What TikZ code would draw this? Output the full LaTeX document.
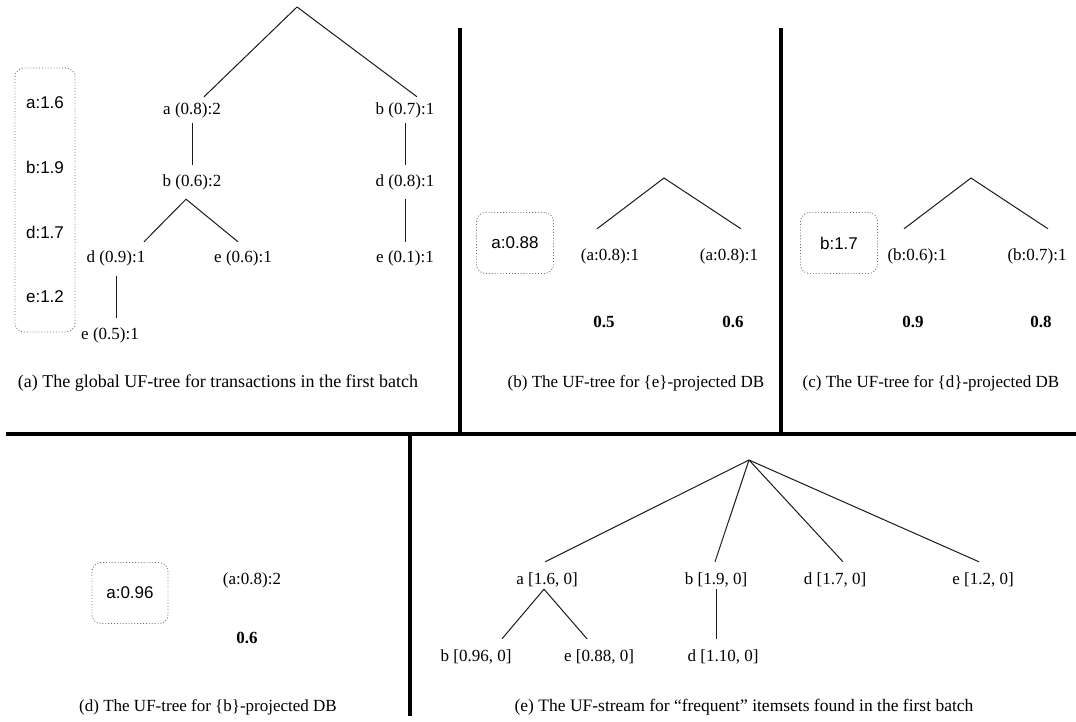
\documentclass[tikz,border=0pt]{standalone}
\usepackage{fontspec}
\setmainfont{Liberation Serif}
\setsansfont{Liberation Sans}
\usetikzlibrary{positioning}
\definecolor{inkgray}{HTML}{1A1A1A}
\definecolor{dotgray}{HTML}{707070}

\begin{document}
\begin{tikzpicture}[x=1pt, y=-1pt,
  lbl/.style={font=\fontsize{17}{20}\selectfont, inner sep=0pt, text height=12pt, text depth=4pt},
  num/.style={lbl, font=\fontsize{17}{20}\selectfont\bfseries},
  captxt/.style={font=\fontsize{17}{20}\selectfont, inner sep=0pt},
  kbox/.style={draw=dotgray, dotted, line width=0.9pt, rounded corners=9pt, inner sep=0pt, font=\sffamily\fontsize{17}{20}\selectfont},
  ktxt/.style={font=\sffamily\fontsize{17}{20}\selectfont, inner sep=0pt},
  branch/.style={draw=inkgray, line width=1pt},
  divider/.style={line width=4pt}]
  \useasboundingbox (0,0) rectangle (1076,721);

  % panel dividers
  \draw[divider] (460,28) -- (460,432);
  \draw[divider] (781,28) -- (781,432);
  \draw[divider] (6,434) -- (1076,434);
  \draw[divider] (410,434) -- (410,716);

  % (a) global UF-tree, first batch
  \node[kbox, minimum width=60pt, minimum height=264pt] (ka) at (45,200) {};
  \foreach \t/\y [count=\i] in {a:1.6/103, b:1.9/167, d:1.7/232, e:1.2/297}
    \node[ktxt] (ka\i) at (45,\y) {\t};
  \coordinate (ra) at (297,7);
  \node[lbl] (a08) at (192,110) {a (0.8):2};
  \node[lbl] (b07) at (405,110) {b (0.7):1};
  \node[lbl] (b06) at (192,182) {b (0.6):2};
  \node[lbl] (d08) at (405,182) {d (0.8):1};
  \node[lbl] (d09) at (116,258) {d (0.9):1};
  \node[lbl] (e06) at (243,258) {e (0.6):1};
  \node[lbl] (e01) at (405,258) {e (0.1):1};
  \node[lbl] (e05) at (110,335) {e (0.5):1};
  \draw[branch] (ra) -- ([xshift=12pt,yshift=5pt]a08.north);
  \draw[branch] (ra) -- ([xshift=12pt,yshift=5pt]b07.north);
  \draw[branch] ([yshift=-5pt]a08.south) -- ([yshift=9pt]b06.north);
  \draw[branch] ([yshift=-5pt]b07.south) -- ([yshift=9pt]d08.north);
  \draw[branch] ([yshift=-9pt]d08.south) -- ([yshift=8pt]e01.north);
  \draw[branch] ([xshift=28pt,yshift=8pt]d09.north) -- ([xshift=-6pt,yshift=-9pt]b06.south)
    -- ([xshift=-5pt,yshift=8pt]e06.north);
  \draw[branch] ([yshift=-10pt]d09.south) -- ([yshift=9pt]d09.south |- e05.north);
  \node[captxt, font=\fontsize{18}{21}\selectfont] (capa) at (218,383) {(a) The global UF-tree for transactions in the first batch};

  % (b) {e}-projected
  \node[kbox, minimum width=77pt, minimum height=61pt] (kb) at (515,243) {a:0.88};
  \coordinate (rb) at (664,178);
  \node[lbl] (b1) at (610,256) {(a:0.8):1};
  \node[lbl] (b2) at (729,256) {(a:0.8):1};
  \node[num] (b1v) at (604,323) {0.5};
  \node[num] (b2v) at (733,323) {0.6};
  \draw[branch] ([xshift=-13pt,yshift=19pt]b1.north) -- (rb) -- ([xshift=12pt,yshift=19pt]b2.north);
  \node[captxt] (capb) at (636,383) {(b) The UF-tree for \{e\}-projected DB};

  % (c) {d}-projected
  \node[kbox, minimum width=77pt, minimum height=61pt] (kc) at (839,243) {b:1.7};
  \coordinate (rc) at (971,178);
  \node[lbl] (c1) at (917,256) {(b:0.6):1};
  \node[lbl] (c2) at (1037,256) {(b:0.7):1};
  \node[num] (c1v) at (913,323) {0.9};
  \node[num] (c2v) at (1041,323) {0.8};
  \draw[branch] ([xshift=-13pt,yshift=19pt]c1.north) -- (rc) -- ([xshift=11pt,yshift=19pt]c2.north);
  \node[captxt] (capc) at (931,383) {(c) The UF-tree for \{d\}-projected DB};

  % (d) {b}-projected
  \node[kbox, minimum width=76pt, minimum height=61pt] (kd) at (130,593) {a:0.96};
  \node[lbl] (d1) at (252,580) {(a:0.8):2};
  \node[num] (d1v) at (247,639) {0.6};
  \node[captxt] (capd) at (208,707) {(d) The UF-tree for \{b\}-projected DB};

  % (e) UF-stream
  \coordinate (re) at (749,460);
  \node[lbl] (ea) at (547,580) {a [1.6, 0]};
  \node[lbl] (eb) at (716,580) {b [1.9, 0]};
  \node[lbl] (ed) at (835,580) {d [1.7, 0]};
  \node[lbl] (ee) at (983,580) {e [1.2, 0]};
  \node[lbl] (eab) at (476,657) {b [0.96, 0]};
  \node[lbl] (eae) at (599,657) {e [0.88, 0]};
  \node[lbl] (ebd) at (723,657) {d [1.10, 0]};
  \draw[branch] (re) -- ([xshift=-2pt,yshift=10pt]ea.north);
  \draw[branch] (re) -- ([xshift=-1pt,yshift=10pt]eb.north);
  \draw[branch] (re) -- ([xshift=8pt,yshift=10pt]ed.north);
  \draw[branch] (re) -- ([xshift=-4pt,yshift=10pt]ee.north);
  \draw[branch] ([xshift=26pt,yshift=10pt]eab.north) -- ([xshift=-3pt,yshift=-1pt]ea.south)
    -- ([xshift=-12pt,yshift=10pt]eae.north);
  \draw[branch] ([yshift=-1pt]eb.south) -- ([yshift=10pt]eb.south |- ebd.north);
  \node[captxt, font=\fontsize{17.5}{21}\selectfont] (cape) at (744,707) {(e) The UF-stream for ``frequent'' itemsets found in the first batch};
\end{tikzpicture}
\end{document}
